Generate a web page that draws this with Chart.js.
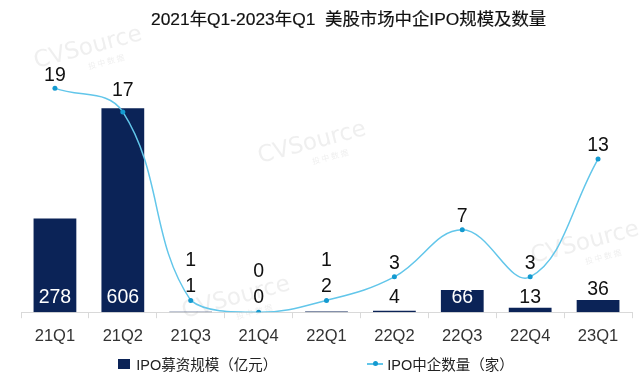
<!DOCTYPE html>
<html lang="zh">
<head>
  <meta charset="UTF-8" />
  <title>美股市场中企IPO规模及数量</title>
  <style>
    body {
      margin: 0;
      background-color: #ffffff;
      font-family: "Liberation Sans", "Noto Sans CJK SC", sans-serif;
    }
    .wrap {
      position: relative;
      width: 640px;
      height: 379px;
    }
    .title {
      position: absolute;
      top: 5px;
      left: 151px;
      font-size: 17.4px;
      color: #111;
      white-space: nowrap;
      -webkit-text-stroke: 0.2px #111;
    }
    .legend {
      position: absolute;
      top: 353px;
      left: 0;
      width: 632px;
      display: flex;
      justify-content: center;
      gap: 90px;
      font-size: 14.5px;
      color: #222;
    }
    .legend span {
      display: inline-flex;
      align-items: center;
    }
    .box {
      display: inline-block;
      width: 12px;
      height: 10px;
      background: #0b2357;
      margin-right: 6px;
    }
    .ln {
      position: relative;
      display: inline-block;
      width: 16px;
      height: 2px;
      background: #62c6ea;
      margin-right: 4px;
    }
    .ln::after {
      content: "";
      position: absolute;
      left: 6px;
      top: -2px;
      width: 5px;
      height: 5px;
      border-radius: 50%;
      background: #149ad0;
    }
  </style>
</head>
<body>
  <div class="wrap">
    <canvas id="chart" width="640" height="379"></canvas>
    <div class="title">2021年Q1-2023年Q1&nbsp;&nbsp;美股市场中企IPO规模及数量</div>
    <div class="legend">
      <span><i class="box"></i>IPO募资规模（亿元）</span>
      <span><i class="ln"></i>IPO中企数量（家）</span>
    </div>
  </div>

  <script src="https://cdn.jsdelivr.net/npm/chart.js"></script>
  <script>
    const quarters = ['21Q1', '21Q2', '21Q3', '21Q4', '22Q1', '22Q2', '22Q3', '22Q4', '23Q1'];
    const amount = [278, 606, 1, 0, 2, 4, 66, 13, 36];   // IPO募资规模（亿元）
    const count = [19, 17, 1, 0, 1, 3, 7, 3, 13];        // IPO中企数量（家）

    // 水印
    const watermark = {
      id: 'watermark',
      beforeDatasetsDraw(chart) {
        const ctx = chart.ctx;
        const spots = [[88, 48], [312, 143], [236, 298], [585, 243]];
        ctx.save();
        spots.forEach(([x, y]) => {
          ctx.save();
          ctx.translate(x, y);
          ctx.rotate(-0.26);
          ctx.textAlign = 'center';
          ctx.textBaseline = 'middle';
          ctx.fillStyle = 'rgba(180,180,180,0.22)';
          ctx.font = '23px "DejaVu Sans"';
          ctx.fillText('CVSource', 0, 0);
          ctx.font = '8px "Noto Sans CJK SC"';
          ctx.fillText('投 中 数 据', 14, 18);
          ctx.restore();
        });
        ctx.restore();
      }
    };

    // 数据标签
    const valueLabels = {
      id: 'valueLabels',
      afterDatasetsDraw(chart) {
        const ctx = chart.ctx;
        const bars = chart.getDatasetMeta(0).data;
        const pts = chart.getDatasetMeta(1).data;
        ctx.save();
        ctx.textAlign = 'center';
        ctx.textBaseline = 'middle';
        ctx.font = '19.5px "Liberation Sans"';
        bars.forEach((bar, i) => {
          const h = bar.base - bar.y;
          const pt = pts[i];
          let by, color;
          if (h >= 20) {
            by = bar.base - 15;
            color = '#ffffff';
          } else {
            by = Math.min(bar.base - 15, bar.y - 10);
            if (pt.y > by - 12 && pt.y < by + 8) by = pt.y - 14;
            color = '#111111';
          }
          ctx.fillStyle = color;
          ctx.fillText(amount[i], bar.x, by);

          const ly = Math.min(pt.y - 13, by - 26, bar.y - 18);
          ctx.fillStyle = '#111111';
          ctx.fillText(count[i], pt.x, ly);
        });
        ctx.restore();
      }
    };

    new Chart(document.getElementById('chart'), {
      type: 'bar',
      data: {
        labels: quarters,
        datasets: [
          {
            type: 'bar',
            label: 'IPO募资规模（亿元）',
            data: amount,
            backgroundColor: '#0b2357',
            categoryPercentage: 0.9,
            barPercentage: 0.7,
            yAxisID: 'y',
            order: 2
          },
          {
            type: 'line',
            label: 'IPO中企数量（家）',
            data: count,
            borderColor: '#62c6ea',
            backgroundColor: '#149ad0',
            borderWidth: 1.5,
            pointRadius: 2.5,
            pointBorderWidth: 0,
            tension: 0.4,
            yAxisID: 'y1',
            order: 1
          }
        ]
      },
      options: {
        responsive: false,
        animation: false,
        layout: { padding: { top: 53, left: 21, right: 8, bottom: 25 } },
        plugins: {
          legend: { display: false },
          tooltip: { enabled: false }
        },
        scales: {
          x: {
            border: { color: '#d9d9d9' },
            grid: { drawOnChartArea: false, color: '#d9d9d9', tickLength: 6 },
            ticks: { color: '#333', padding: 8, font: { size: 16.5, family: 'Liberation Sans' } }
          },
          y: { display: false, min: 0, max: 770 },
          y1: { display: false, min: 0, max: 22 }
        }
      },
      plugins: [watermark, valueLabels]
    });
  </script>
</body>
</html>
